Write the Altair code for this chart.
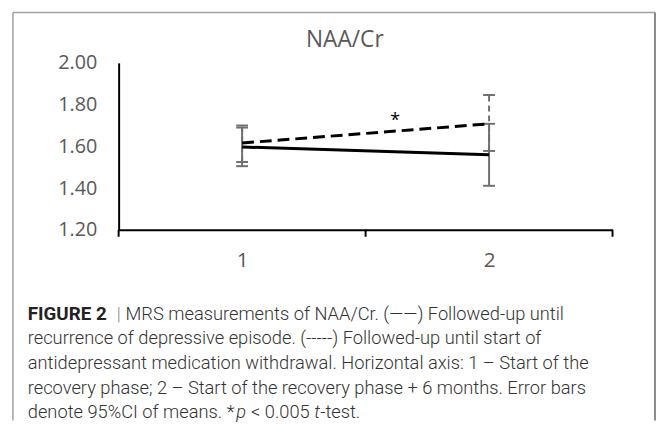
import altair as alt
import pandas as pd

# ---- data ----
timepoints = [1, 2]
recurrence_mean = [1.597, 1.560]
recurrence_lo = [1.505, 1.411]
recurrence_hi = [1.690, 1.708]
withdrawal_mean = [1.616, 1.708]
withdrawal_lo = [1.525, 1.578]
withdrawal_hi = [1.700, 1.846]
tick_edges = [0.5, 1.5, 2.5]
star_pos = [1.62, 1.72]

chart_title = "NAA/Cr"
caption_lines = [
    "recurrence of depressive episode. (-----) Followed-up until start of",
    "antidepressant medication withdrawal. Horizontal axis: 1 \u2013 Start of the",
    "recovery phase; 2 \u2013 Start of the recovery phase + 6 months. Error bars",
]

rec = pd.DataFrame({"t": timepoints, "m": recurrence_mean, "lo": recurrence_lo, "hi": recurrence_hi})
wd = pd.DataFrame({"t": timepoints, "m": withdrawal_mean, "lo": withdrawal_lo, "hi": withdrawal_hi})
one = pd.DataFrame({"d": [0]})

W, H = 500, 169
xs = alt.Scale(domain=[0.5, 2.5], nice=False, zero=False)
ys = alt.Scale(domain=[1.2, 2.0], nice=False, zero=False)

X = alt.X("t:Q", scale=xs, axis=alt.Axis(values=[1, 2], format="d", ticks=False, grid=False,
                                          domainColor="#000000", domainWidth=2, labelFont="Open Sans",
                                          labelFontSize=21, labelColor="#595959", labelPadding=20, title=None))
Y = alt.Y("m:Q", scale=ys, axis=alt.Axis(values=[1.2, 1.4, 1.6, 1.8, 2.0], format=".2f", ticks=False,
                                          grid=False, domainColor="#000000", domainWidth=2,
                                          labelFont="Open Sans", labelFontSize=20, labelColor="#595959",
                                          labelPadding=22, title=None))

GRAY = "#707070"

def err_layers(df, dashed):
    base = alt.Chart(df)
    vert = base.mark_rule(color=GRAY, strokeWidth=2, strokeDash=[6, 4] if dashed else [1, 0]).encode(
        x=alt.X("t:Q", scale=xs), y=alt.Y("lo:Q", scale=ys), y2="hi:Q")
    cap_lo = base.mark_rule(color=GRAY, strokeWidth=2, xOffset=-6, x2Offset=6).encode(
        x=alt.X("t:Q", scale=xs), x2="t:Q", y=alt.Y("lo:Q", scale=ys))
    cap_hi = base.mark_rule(color=GRAY, strokeWidth=2, xOffset=-6, x2Offset=6).encode(
        x=alt.X("t:Q", scale=xs), x2="t:Q", y=alt.Y("hi:Q", scale=ys))
    return [vert, cap_lo, cap_hi]

line_rec = alt.Chart(rec).mark_line(color="#000000", strokeWidth=3).encode(x=X, y=Y)
line_wd = alt.Chart(wd).mark_line(color="#000000", strokeWidth=3, strokeDash=[12, 6]).encode(x=X, y=Y)

ticks = alt.Chart(pd.DataFrame({"e": tick_edges})).mark_rule(color="#000000", strokeWidth=2).encode(
    x=alt.X("e:Q", scale=xs), y=alt.value(H), y2=alt.value(H + 7))

star = alt.Chart(pd.DataFrame({"sx": [star_pos[0]], "sy": [star_pos[1]], "s": ["*"]})).mark_text(
    fontSize=18, font="Open Sans", color="#000000").encode(
    x=alt.X("sx:Q", scale=xs), y=alt.Y("sy:Q", scale=ys), text="s:N")

def txt(s, x, y, size=18.5, weight=300, style="normal", color="#333333", font="Roboto", align="left"):
    return alt.Chart(pd.DataFrame({"s": [s]})).mark_text(
        align=align, baseline="middle", fontSize=size, fontWeight=weight, fontStyle=style,
        color=color, font=font).encode(x=alt.value(x), y=alt.value(y), text="s:N")

title = txt(chart_title, 229, -23, size=23, weight=400, color="#595959", font="Open Sans", align="center")

CX = -92
L0 = 254
STEP = 25
cap = [
    txt("FIGURE 2", CX, L0, size=19, weight=700, color="#222222"),
    txt("|", CX + 90, L0, color="#888888"),
    txt("MRS measurements of NAA/Cr. (\u2014\u2014)  Followed-up until", CX + 99, L0),
]
for i, ln in enumerate(caption_lines):
    cap.append(txt(ln, CX, L0 + STEP * (i + 1)))
y5 = L0 + STEP * 4
cap += [
    txt("denote 95%CI of means. *", CX, y5),
    txt("p", CX + 211, y5, style="italic"),
    txt("< 0.005", CX + 226, y5),
    txt("t", CX + 290, y5, style="italic"),
    txt("-test.", CX + 296, y5),
]

box = [
    alt.Chart(one).mark_rule(color="#a0a0a0", strokeWidth=1.5).encode(
        x=alt.value(-107), x2=alt.value(543), y=alt.value(-51)),
    alt.Chart(one).mark_rule(color="#a0a0a0", strokeWidth=1.5).encode(
        x=alt.value(-107), y=alt.value(-51), y2=alt.value(H + 193)),
    alt.Chart(one).mark_rule(color="#8a8a8a", strokeWidth=2).encode(
        x=alt.value(543), y=alt.value(-51), y2=alt.value(H + 193)),
]

layers = box + err_layers(rec, False) + err_layers(wd, True) + [line_rec, line_wd, ticks, star, title] + cap

chart = alt.layer(*layers).properties(
    width=W, height=H,
    padding={"left": 112, "top": 53, "right": 45, "bottom": 193},
    autosize=alt.AutoSizeParams(type="none"),
    background="#ffffff",
).configure_view(stroke=None)

chart.save("out.html", embed_options={"renderer": "svg", "actions": False})
